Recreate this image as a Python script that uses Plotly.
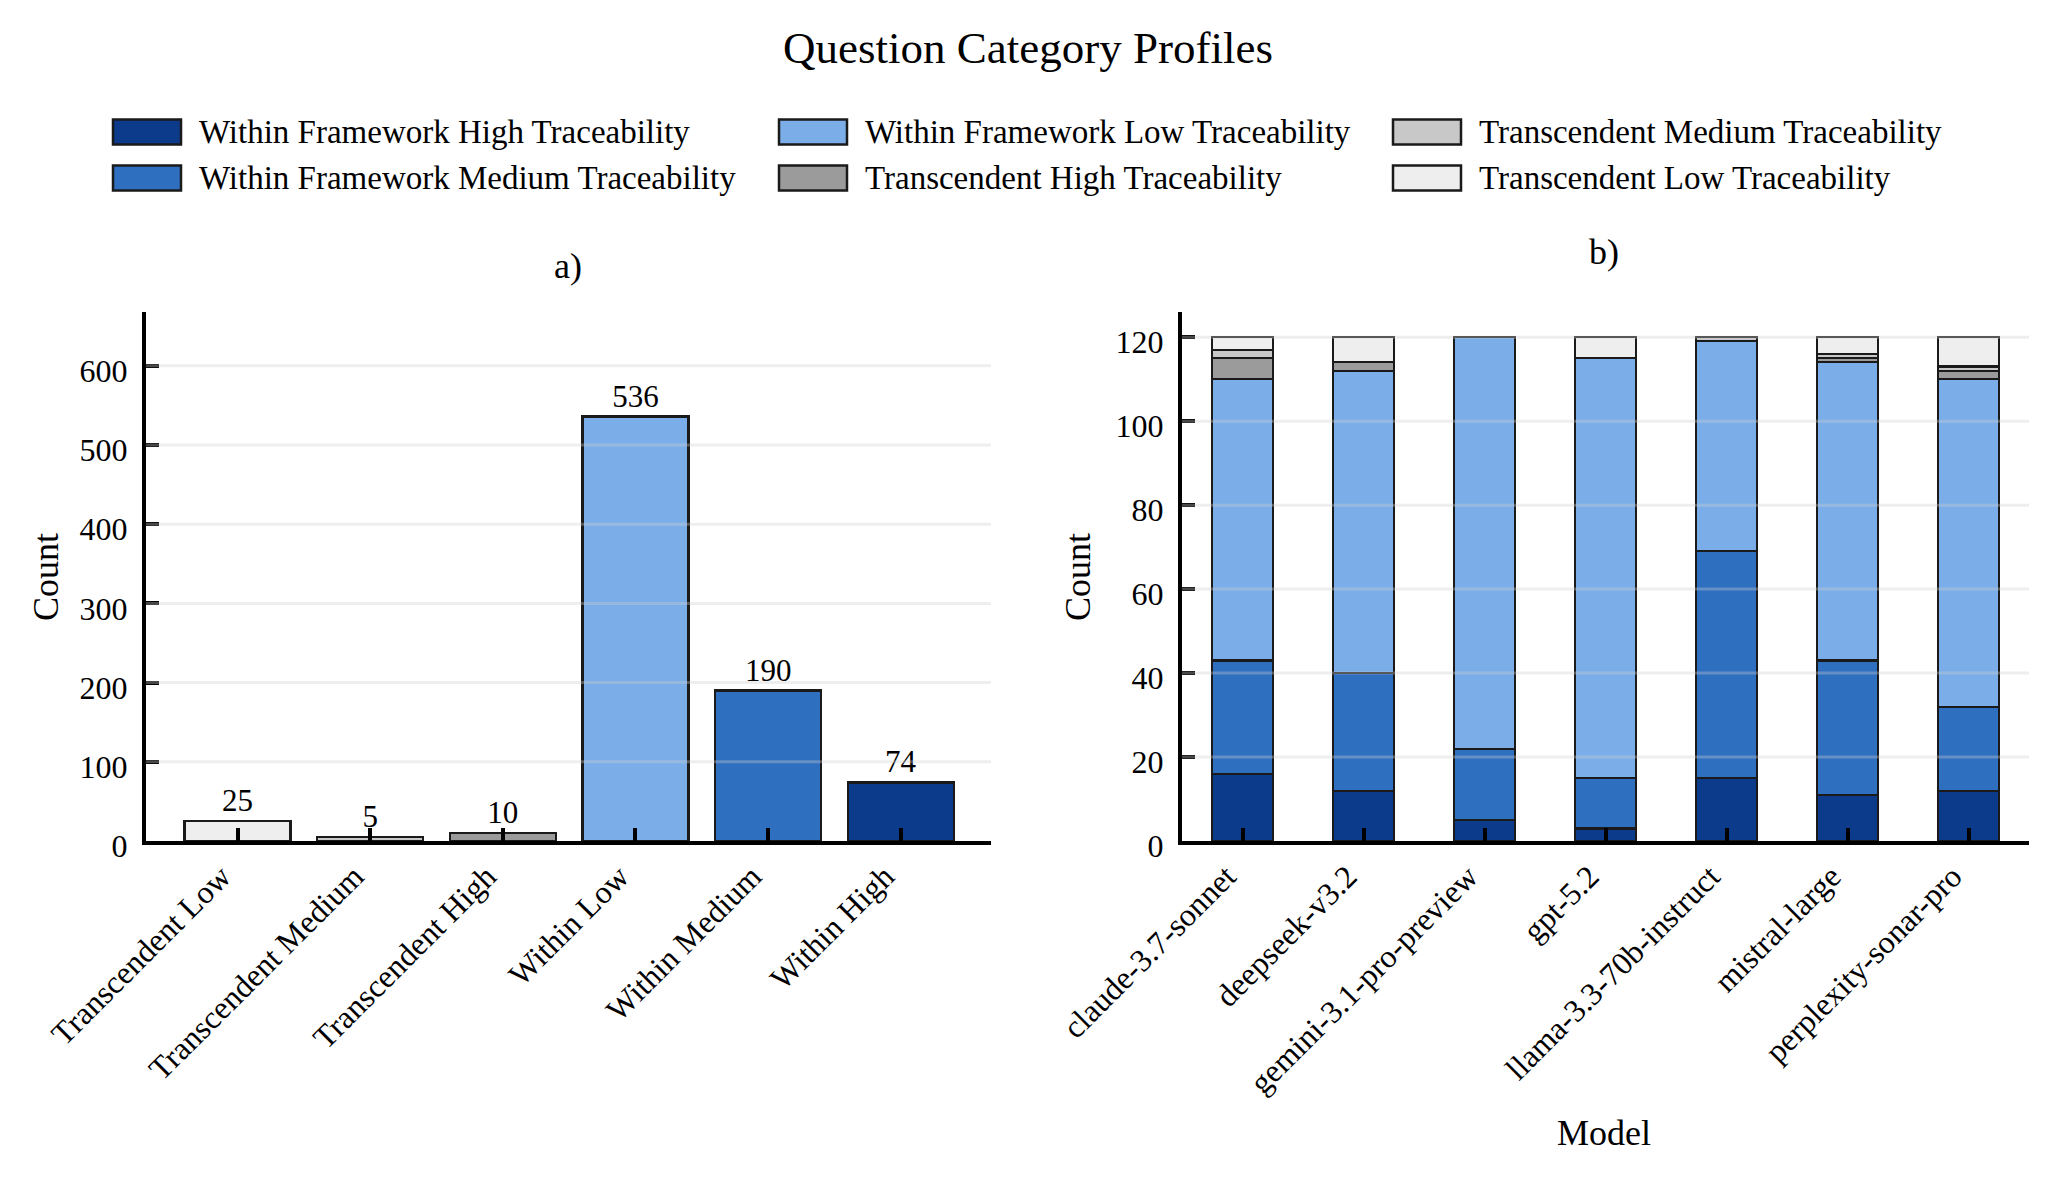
import plotly.graph_objects as go

# ---------------- data ----------------
categories_a = ["Transcendent Low", "Transcendent Medium", "Transcendent High",
                "Within Low", "Within Medium", "Within High"]
counts_a = [25, 5, 10, 536, 190, 74]

models = ["claude-3.7-sonnet", "deepseek-v3.2", "gemini-3.1-pro-preview", "gpt-5.2",
          "llama-3.3-70b-instruct", "mistral-large", "perplexity-sonar-pro"]
within_high = [16, 12, 5, 3, 15, 11, 12]
within_medium = [27, 28, 17, 12, 54, 32, 20]
within_low = [67, 72, 98, 100, 50, 71, 78]
trans_high = [5, 2, 0, 0, 0, 1, 2]
trans_medium = [2, 0, 0, 0, 1, 1, 1]
trans_low = [3, 6, 0, 5, 0, 4, 7]

series_names = ["Within Framework High Traceability", "Within Framework Medium Traceability",
                "Within Framework Low Traceability", "Transcendent High Traceability",
                "Transcendent Medium Traceability", "Transcendent Low Traceability"]
series_values = [within_high, within_medium, within_low, trans_high, trans_medium, trans_low]

yticks_a = [0, 100, 200, 300, 400, 500, 600]
yticks_b = [0, 20, 40, 60, 80, 100, 120]

# ---------------- styling ----------------
FONT = "Liberation Serif, Times New Roman, serif"
C_WH, C_WM, C_WL = "#0c3b8c", "#2e6fc0", "#7baee8"
C_TH, C_TM, C_TL = "#9b9b9b", "#c8c8c8", "#eeeeee"
series_colors = [C_WH, C_WM, C_WL, C_TH, C_TM, C_TL]
colors_a = [C_TL, C_TM, C_TH, C_WL, C_WM, C_WH]
EDGE = "#1a1a1a"

W, H = 2057, 1182
def px(x):
    return x / W
def py(y):
    return 1 - y / H

fig = go.Figure()

fig.add_trace(go.Bar(
    x=categories_a, y=counts_a, xaxis="x", yaxis="y",
    marker=dict(color=colors_a, line=dict(color=EDGE, width=2.2)),
    width=0.8, text=[str(v) for v in counts_a], textposition="outside",
    textfont=dict(size=31, color="black", family=FONT),
    constraintext="none", cliponaxis=False, showlegend=False,
))

for name, vals, col in zip(series_names, series_values, series_colors):
    fig.add_trace(go.Bar(
        x=models, y=vals, name=name, xaxis="x2", yaxis="y2",
        marker=dict(color=col, line=dict(color=EDGE, width=2.2)),
        width=0.5, showlegend=False,
    ))

axis_common = dict(
    showline=True, linecolor="black", linewidth=4, mirror=False,
    ticks="inside", tickcolor="black", ticklen=13, tickwidth=3.5,
    showgrid=False, zeroline=False, automargin=False,
    tickfont=dict(size=32, family=FONT, color="black"),
)
x_extra = dict(tickangle=-45, ticklabelshift=-16)
y_extra = dict(ticklabelstandoff=8, ticklabelshift=5)

y_dom = [py(841), py(312)]
fig.update_layout(
    width=W, height=H,
    margin=dict(l=0, r=0, t=0, b=0, pad=0),
    paper_bgcolor="white", plot_bgcolor="white",
    barmode="stack", showlegend=False,
    font=dict(family=FONT, color="black"),
    xaxis=dict(domain=[px(146), px(991)], range=[-0.69, 5.68], anchor="y",
               **x_extra, **axis_common),
    yaxis=dict(domain=y_dom, range=[0, 668], anchor="x", tickvals=yticks_a,
               **y_extra, **axis_common),
    xaxis2=dict(domain=[px(1182), px(2029)], range=[-0.5, 6.5], anchor="y2",
                **x_extra, **axis_common),
    yaxis2=dict(domain=y_dom, range=[0, 126], anchor="x2", tickvals=yticks_b,
                **y_extra, **axis_common),
)

# grid lines drawn semi-transparent above bars (as in reference)
shapes = []
for v in yticks_a[1:]:
    shapes.append(dict(type="line", xref="x domain", yref="y", x0=0, x1=1, y0=v, y1=v,
                       line=dict(color="rgba(205,205,205,0.35)", width=3), layer="above"))
for v in yticks_b[1:]:
    shapes.append(dict(type="line", xref="x2 domain", yref="y2", x0=0, x1=1, y0=v, y1=v,
                       line=dict(color="rgba(205,205,205,0.35)", width=3), layer="above"))

# manual legend (3 columns, filled column-wise)
annotations = []
col_x = [113, 779, 1393]
row_y = [132, 178]
for i, (name, col) in enumerate(zip(series_names, series_colors)):
    cx = col_x[i // 2]
    cy = row_y[i % 2]
    shapes.append(dict(type="rect", xref="paper", yref="paper",
                       x0=px(cx), x1=px(cx + 68), y0=py(cy + 12.5), y1=py(cy - 12.5),
                       fillcolor=col, line=dict(color=EDGE, width=2.5)))
    annotations.append(dict(text=name, xref="paper", yref="paper", x=px(cx + 84), y=py(cy),
                            xanchor="left", yanchor="middle", showarrow=False,
                            font=dict(size=33, family=FONT, color="black")))

annotations += [
    dict(text="Question Category Profiles", xref="paper", yref="paper", x=px(1028), y=py(48),
         xanchor="center", yanchor="middle", showarrow=False, font=dict(size=45, family=FONT)),
    dict(text="a)", xref="paper", yref="paper", x=px(568), y=py(266),
         xanchor="center", yanchor="middle", showarrow=False, font=dict(size=36, family=FONT)),
    dict(text="b)", xref="paper", yref="paper", x=px(1604), y=py(252),
         xanchor="center", yanchor="middle", showarrow=False, font=dict(size=36, family=FONT)),
    dict(text="Count", xref="paper", yref="paper", x=px(46), y=py(577), textangle=-90,
         xanchor="center", yanchor="middle", showarrow=False, font=dict(size=36, family=FONT)),
    dict(text="Count", xref="paper", yref="paper", x=px(1078), y=py(577), textangle=-90,
         xanchor="center", yanchor="middle", showarrow=False, font=dict(size=36, family=FONT)),
    dict(text="Model", xref="paper", yref="paper", x=px(1604), y=py(1133),
         xanchor="center", yanchor="middle", showarrow=False, font=dict(size=36, family=FONT)),
]

fig.update_layout(shapes=shapes, annotations=annotations)
fig.write_html("out.html")
